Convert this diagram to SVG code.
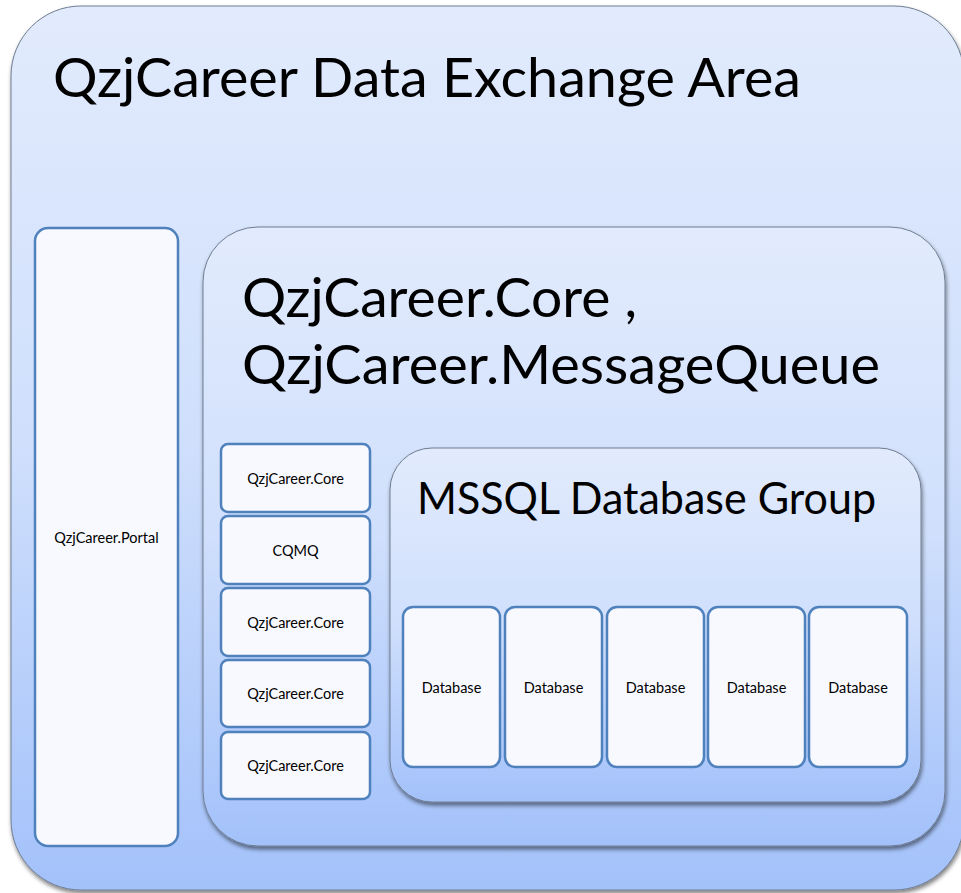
<svg xmlns="http://www.w3.org/2000/svg" width="961" height="893" viewBox="0 0 961 893">
  <defs>
    <linearGradient id="areaFill" x1="0" y1="0" x2="0" y2="1">
      <stop offset="0" stop-color="#e2ebfd"/>
      <stop offset="0.5" stop-color="#cfdffc"/>
      <stop offset="1" stop-color="#a3c1fa"/>
    </linearGradient>
    <filter id="dropShadow" x="-5%" y="-5%" width="110%" height="110%">
      <feGaussianBlur in="SourceAlpha" stdDeviation="2"/>
      <feOffset dx="1" dy="3" result="blur"/>
      <feComponentTransfer><feFuncA type="linear" slope="0.5"/></feComponentTransfer>
      <feMerge><feMergeNode/><feMergeNode in="SourceGraphic"/></feMerge>
    </filter>
  </defs>
  <style>
    .area { fill: url(#areaFill); stroke: #6f7d92; stroke-width: 1; filter: url(#dropShadow); }
    .box { fill: #f7f9fe; stroke: #4f81bd; stroke-width: 2.5; }
    .title { font-family: Lato, "Open Sans", "Liberation Sans", sans-serif; fill: #000; }
    .label { font-family: Lato, "Open Sans", "Liberation Sans", sans-serif; font-size: 14.5px; fill: #000; text-anchor: middle; dominant-baseline: central; }
  </style>

  <rect width="961" height="893" fill="#ffffff"/>

  <!-- Outer container -->
  <g id="exchange-area">
    <rect class="area" x="11" y="6" width="953" height="884" rx="70" ry="70"/>
    <text class="title" x="53" y="97" font-size="54" textLength="748" lengthAdjust="spacingAndGlyphs">QzjCareer Data Exchange Area</text>
  </g>

  <!-- Portal column -->
  <g id="portal">
    <rect class="box" x="35" y="228" width="143" height="618" rx="13" ry="13"/>
    <text class="label" x="106.5" y="537">QzjCareer.Portal</text>
  </g>

  <!-- Core / MessageQueue container -->
  <g id="core-mq">
    <rect class="area" x="203" y="227" width="742" height="619" rx="55" ry="55"/>
    <text class="title" x="242" y="317" font-size="54" textLength="395" lengthAdjust="spacingAndGlyphs">QzjCareer.Core ,</text>
    <text class="title" x="242" y="384" font-size="54" textLength="638" lengthAdjust="spacingAndGlyphs">QzjCareer.MessageQueue</text>
  </g>

  <!-- Service stack -->
  <g id="core-1">
    <rect class="box" x="221" y="444" width="149" height="68" rx="7" ry="7"/>
    <text class="label" x="295.5" y="478">QzjCareer.Core</text>
  </g>
  <g id="cqmq">
    <rect class="box" x="221" y="516" width="149" height="68" rx="7" ry="7"/>
    <text class="label" x="295.5" y="550">CQMQ</text>
  </g>
  <g id="core-2">
    <rect class="box" x="221" y="588" width="149" height="68" rx="7" ry="7"/>
    <text class="label" x="295.5" y="622">QzjCareer.Core</text>
  </g>
  <g id="core-3">
    <rect class="box" x="221" y="660" width="149" height="67" rx="7" ry="7"/>
    <text class="label" x="295.5" y="693">QzjCareer.Core</text>
  </g>
  <g id="core-4">
    <rect class="box" x="221" y="732" width="149" height="67" rx="7" ry="7"/>
    <text class="label" x="295.5" y="765">QzjCareer.Core</text>
  </g>

  <!-- Database group -->
  <g id="mssql-group">
    <rect class="area" x="390" y="448" width="531" height="354" rx="42" ry="42"/>
    <text class="title" x="417" y="514" font-size="45" textLength="459" lengthAdjust="spacingAndGlyphs">MSSQL Database Group</text>
  </g>
  <g id="db-1">
    <rect class="box" x="403" y="607" width="97" height="160" rx="10" ry="10"/>
    <text class="label" x="451.5" y="687">Database</text>
  </g>
  <g id="db-2">
    <rect class="box" x="505" y="607" width="97" height="160" rx="10" ry="10"/>
    <text class="label" x="553.5" y="687">Database</text>
  </g>
  <g id="db-3">
    <rect class="box" x="607" y="607" width="97" height="160" rx="10" ry="10"/>
    <text class="label" x="655.5" y="687">Database</text>
  </g>
  <g id="db-4">
    <rect class="box" x="708" y="607" width="97" height="160" rx="10" ry="10"/>
    <text class="label" x="756.5" y="687">Database</text>
  </g>
  <g id="db-5">
    <rect class="box" x="809" y="607" width="98" height="160" rx="10" ry="10"/>
    <text class="label" x="858" y="687">Database</text>
  </g>

  <!-- No connectors in this layout -->
  <g id="connectors"/>
</svg>
